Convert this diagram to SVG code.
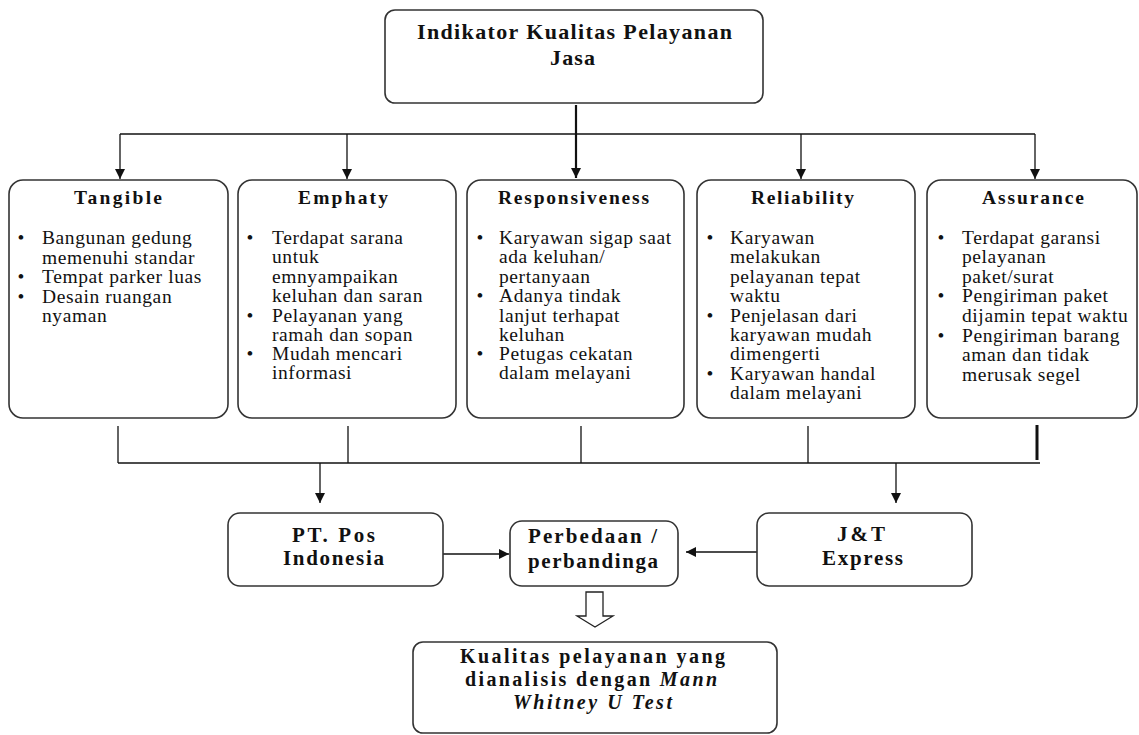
<svg xmlns="http://www.w3.org/2000/svg" width="1139" height="735" viewBox="0 0 1139 735">
<style>
.box{fill:#fff;stroke:#333;stroke-width:1.6}
.ln{stroke:#111;stroke-width:1.3;fill:none}
.hd{font-family:"Liberation Serif","Times New Roman",serif;font-weight:bold;fill:#111;text-anchor:middle}
.bt{font-family:"Liberation Serif","Times New Roman",serif;font-size:19.5px;letter-spacing:0.6px;fill:#111}
.bl{font-family:"Liberation Serif","Times New Roman",serif;font-size:19.5px;fill:#111;text-anchor:middle}
</style>
<defs>
<marker id="ah" markerUnits="userSpaceOnUse" markerWidth="12" markerHeight="12" viewBox="0 0 12 12" refX="11" refY="6" orient="auto">
<path d="M1,1 L11,6 L1,11 Z" fill="#111"/>
</marker>
</defs>
<rect width="1139" height="735" fill="#fff"/>

<g id="connectors">
<line class="ln" x1="576" y1="105" x2="576" y2="178" style="stroke-width:2.2" marker-end="url(#ah)"/>
<line class="ln" x1="120" y1="134" x2="1035" y2="134"/>
<line class="ln" x1="120" y1="134" x2="120" y2="179" marker-end="url(#ah)"/>
<line class="ln" x1="347" y1="134" x2="347" y2="179" marker-end="url(#ah)"/>
<line class="ln" x1="801" y1="134" x2="801" y2="179" marker-end="url(#ah)"/>
<line class="ln" x1="1035" y1="134" x2="1035" y2="179" marker-end="url(#ah)"/>
<line class="ln" x1="118" y1="426" x2="118" y2="463"/>
<line class="ln" x1="348" y1="426" x2="348" y2="463"/>
<line class="ln" x1="581" y1="426" x2="581" y2="463"/>
<line class="ln" x1="808" y1="426" x2="808" y2="463"/>
<line class="ln" x1="1037" y1="425" x2="1037" y2="460" style="stroke-width:3"/>
<line class="ln" x1="118" y1="463" x2="1040" y2="463"/>
<line class="ln" x1="320" y1="463" x2="320" y2="503" marker-end="url(#ah)"/>
<line class="ln" x1="896" y1="463" x2="896" y2="503" marker-end="url(#ah)"/>
<line class="ln" x1="443" y1="554" x2="509" y2="554" marker-end="url(#ah)"/>
<line class="ln" x1="757" y1="552" x2="686" y2="552" marker-end="url(#ah)"/>
<polygon points="586,592 603,592 603,616 613,616 595,627 577,616 586,616" fill="#fff" stroke="#222" stroke-width="1.3"/>
</g>

<g id="title">
<rect class="box" x="385" y="10" width="378" height="93" rx="10"/>
<text class="hd" style="font-size:22px" x="574.5" y="39" textLength="315" lengthAdjust="spacing">Indikator Kualitas Pelayanan</text>
<text class="hd" style="font-size:22px" x="572.5" y="65" textLength="45" lengthAdjust="spacing">Jasa</text>
</g>

<g id="tangible">
<rect class="box" x="9" y="180" width="219" height="238" rx="14"/>
<text class="hd" style="font-size:19.5px" x="118" y="204" textLength="88" lengthAdjust="spacing">Tangible</text>
<text class="bl" x="21" y="244">•</text>
<text class="bl" x="21" y="283">•</text>
<text class="bl" x="21" y="302.5">•</text>
<text class="bt"><tspan x="42" y="244">Bangunan gedung</tspan><tspan x="42" y="263.5">memenuhi standar</tspan><tspan x="42" y="283">Tempat parker luas</tspan><tspan x="42" y="302.5">Desain ruangan</tspan><tspan x="42" y="322">nyaman</tspan></text>
</g>

<g id="emphaty">
<rect class="box" x="238" y="180" width="218" height="238" rx="14"/>
<text class="hd" style="font-size:19.5px" x="343" y="204" textLength="90" lengthAdjust="spacing">Emphaty</text>
<text class="bl" x="250" y="244">•</text>
<text class="bl" x="250" y="321.5">•</text>
<text class="bl" x="250" y="360">•</text>
<text class="bt"><tspan x="272" y="244">Terdapat sarana</tspan><tspan x="272" y="263.3">untuk</tspan><tspan x="272" y="282.5">emnyampaikan</tspan><tspan x="272" y="301.8">keluhan dan saran</tspan><tspan x="272" y="321.5">Pelayanan yang</tspan><tspan x="272" y="340.8">ramah dan sopan</tspan><tspan x="272" y="360">Mudah mencari</tspan><tspan x="272" y="379">informasi</tspan></text>
</g>

<g id="responsiveness">
<rect class="box" x="467" y="180" width="217" height="238" rx="14"/>
<text class="hd" style="font-size:19.5px" x="573.5" y="204" textLength="151" lengthAdjust="spacing">Responsiveness</text>
<text class="bl" x="480" y="244">•</text>
<text class="bl" x="480" y="301.8">•</text>
<text class="bl" x="480" y="360">•</text>
<text class="bt"><tspan x="499" y="244">Karyawan sigap saat</tspan><tspan x="499" y="263.3">ada keluhan/</tspan><tspan x="499" y="282.5">pertanyaan</tspan><tspan x="499" y="301.8">Adanya tindak</tspan><tspan x="499" y="321.5">lanjut terhapat</tspan><tspan x="499" y="340.8">keluhan</tspan><tspan x="499" y="360">Petugas cekatan</tspan><tspan x="499" y="379">dalam melayani</tspan></text>
</g>

<g id="reliability">
<rect class="box" x="697" y="180" width="218" height="238" rx="14"/>
<text class="hd" style="font-size:19.5px" x="802.5" y="204" textLength="103" lengthAdjust="spacing">Reliability</text>
<text class="bl" x="710" y="244">•</text>
<text class="bl" x="710" y="321.5">•</text>
<text class="bl" x="710" y="379.5">•</text>
<text class="bt"><tspan x="730" y="244">Karyawan</tspan><tspan x="730" y="263.3">melakukan</tspan><tspan x="730" y="282.5">pelayanan tepat</tspan><tspan x="730" y="301.8">waktu</tspan><tspan x="730" y="321.5">Penjelasan dari</tspan><tspan x="730" y="340.8">karyawan mudah</tspan><tspan x="730" y="360">dimengerti</tspan><tspan x="730" y="379.5">Karyawan handal</tspan><tspan x="730" y="398.5">dalam melayani</tspan></text>
</g>

<g id="assurance">
<rect class="box" x="927" y="180" width="210" height="238" rx="14"/>
<text class="hd" style="font-size:19.5px" x="1033" y="204" textLength="102" lengthAdjust="spacing">Assurance</text>
<text class="bl" x="941" y="244">•</text>
<text class="bl" x="941" y="302">•</text>
<text class="bl" x="941" y="341.5">•</text>
<text class="bt"><tspan x="962" y="244">Terdapat garansi</tspan><tspan x="962" y="263.3">pelayanan</tspan><tspan x="962" y="282.5">paket/surat</tspan><tspan x="962" y="302">Pengiriman paket</tspan><tspan x="962" y="321.5">dijamin tepat waktu</tspan><tspan x="962" y="341.5">Pengiriman barang</tspan><tspan x="962" y="361">aman dan tidak</tspan><tspan x="962" y="381">merusak segel</tspan></text>
</g>

<g id="ptpos">
<rect class="box" x="228" y="513" width="215" height="73" rx="12"/>
<text class="hd" style="font-size:21px" x="333.5" y="542" textLength="83" lengthAdjust="spacing">PT. Pos</text>
<text class="hd" style="font-size:21px" x="333.5" y="565" textLength="101" lengthAdjust="spacing">Indonesia</text>
</g>

<g id="perbedaan">
<rect class="box" x="510" y="521" width="168" height="65" rx="12"/>
<text class="hd" style="font-size:21px" x="592.5" y="543" textLength="129" lengthAdjust="spacing">Perbedaan /</text>
<text class="hd" style="font-size:21px" x="593" y="568" textLength="130" lengthAdjust="spacing">perbandinga</text>
</g>

<g id="jnt">
<rect class="box" x="757" y="513" width="215" height="73" rx="12"/>
<text class="hd" style="font-size:21px" x="861" y="541" textLength="48" lengthAdjust="spacing">J&amp;T</text>
<text class="hd" style="font-size:21px" x="862.5" y="565" textLength="81" lengthAdjust="spacing">Express</text>
</g>

<g id="hasil">
<rect class="box" x="413" y="642" width="364" height="91" rx="10"/>
<text class="hd" style="font-size:20px" x="592.5" y="663" textLength="265" lengthAdjust="spacing">Kualitas pelayanan yang</text>
<text class="hd" style="font-size:20px" x="591" y="686" textLength="252" lengthAdjust="spacing">dianalisis dengan <tspan font-style="italic">Mann</tspan></text>
<text class="hd" style="font-size:20px;font-style:italic" x="592.5" y="709" textLength="159" lengthAdjust="spacing">Whitney U Test</text>
</g>
</svg>
